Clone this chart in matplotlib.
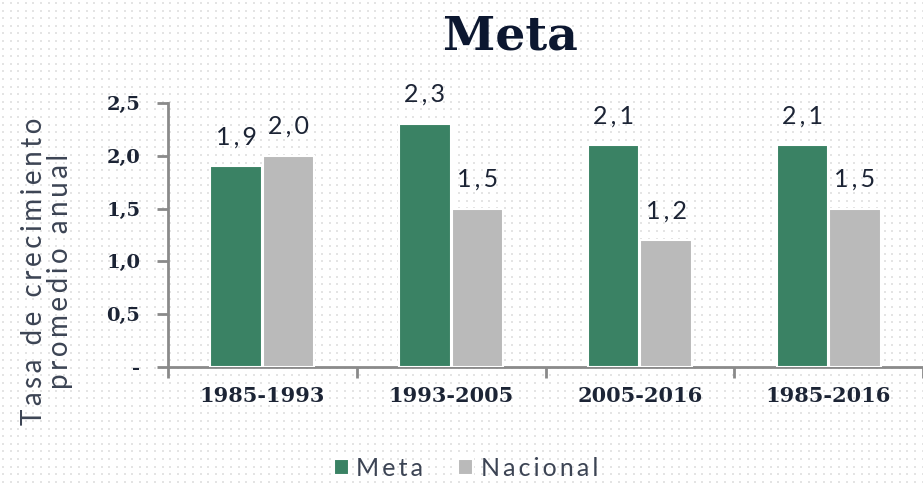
import matplotlib.pyplot as plt
import numpy as np

periodos = ['1985-1993', '1993-2005', '2005-2016', '1985-2016']
meta = [1.9, 2.3, 2.1, 2.1]
nacional = [2.0, 1.5, 1.2, 1.5]
etiquetas_y = ['-', '0,5', '1,0', '1,5', '2,0', '2,5']

verde = '#3a8264'
gris = '#bababa'
texto = '#1c2435'
fuente = ['Lato', 'DejaVu Sans']

def espaciar(s):
    # imitate the wide letter spacing of the original
    return '\u2009'.join(s)

fig = plt.figure(figsize=(9.23, 4.84), dpi=100)

# dotted background
bg = fig.add_axes([0, 0, 1, 1], zorder=-10)
gx, gy = np.meshgrid(np.arange(3, 923, 7.6), np.arange(3, 484, 7.6))
bg.scatter(gx.ravel(), gy.ravel(), s=2.2, marker='s', color='#e4e4e4', linewidths=0)
bg.set_xlim(0, 923)
bg.set_ylim(484, 0)
bg.axis('off')

ax = fig.add_axes([168/923, 1-367/484, (923-168)/923, (367-103)/484])
ax.patch.set_alpha(0)
x = np.arange(len(periodos))
w = 0.272
b1 = ax.bar(x - w/2 - 0.003, meta, w, color=verde, edgecolor='white', linewidth=1.5, zorder=3)
b2 = ax.bar(x + w/2 + 0.003, nacional, w, color=gris, edgecolor='white', linewidth=1.5, zorder=3)

for bars, vals in [(b1, meta), (b2, nacional)]:
    for r, v in zip(bars, vals):
        ax.annotate(espaciar(f'{v:.1f}'.replace('.', ',')),
                    (r.get_x() + r.get_width()/2, v), xytext=(0, 13),
                    textcoords='offset points', ha='center', va='bottom',
                    fontsize=18, color=texto, family=fuente)

ax.set_xlim(-0.5, 3.5)
ax.set_ylim(0, 2.5)
ax.set_yticks(np.arange(0, 2.51, 0.5))
ax.set_yticklabels(etiquetas_y)
ax.set_xticks(x)
ax.set_xticklabels(periodos)
ax.set_xticks(np.arange(-0.5, 3.6, 1), minor=True)
ax.tick_params(axis='x', which='major', length=0, pad=14)
ax.tick_params(axis='x', which='minor', length=8, width=2, color='#8a8a8a')
ax.tick_params(axis='y', length=8, width=2, color='#8a8a8a', pad=12)
for lab in ax.get_xticklabels() + ax.get_yticklabels():
    lab.set_family('DejaVu Serif')
    lab.set_fontweight('bold')
    lab.set_color(texto)
    lab.set_fontsize(14)
for lab in ax.get_xticklabels():
    lab.set_fontsize(15)
for s in ['top', 'right']:
    ax.spines[s].set_visible(False)
for s in ['left', 'bottom']:
    ax.spines[s].set_color('#8a8a8a')
    ax.spines[s].set_linewidth(2)

fig.text(0.553, 0.925, 'Meta', ha='center', va='center', fontsize=34,
         fontweight='bold', family='DejaVu Serif', color='#0c1730')

fig.text(0.051, 0.44, espaciar('Tasa de crecimiento') + '\n' + espaciar('promedio anual'),
         rotation=90, ha='center', va='center', fontsize=20, linespacing=1.0,
         color='#3c4454', family=fuente)

leg = fig.legend([b1, b2], [espaciar('Meta'), espaciar('Nacional')], loc='center',
                 bbox_to_anchor=(0.505, 0.033), ncol=2, frameon=False,
                 handlelength=0.6, handleheight=0.6, handletextpad=0.3,
                 columnspacing=1.4, prop={'family': fuente, 'size': 18})
for t in leg.get_texts():
    t.set_color('#3c4454')

fig.savefig('out.png', dpi=100)
